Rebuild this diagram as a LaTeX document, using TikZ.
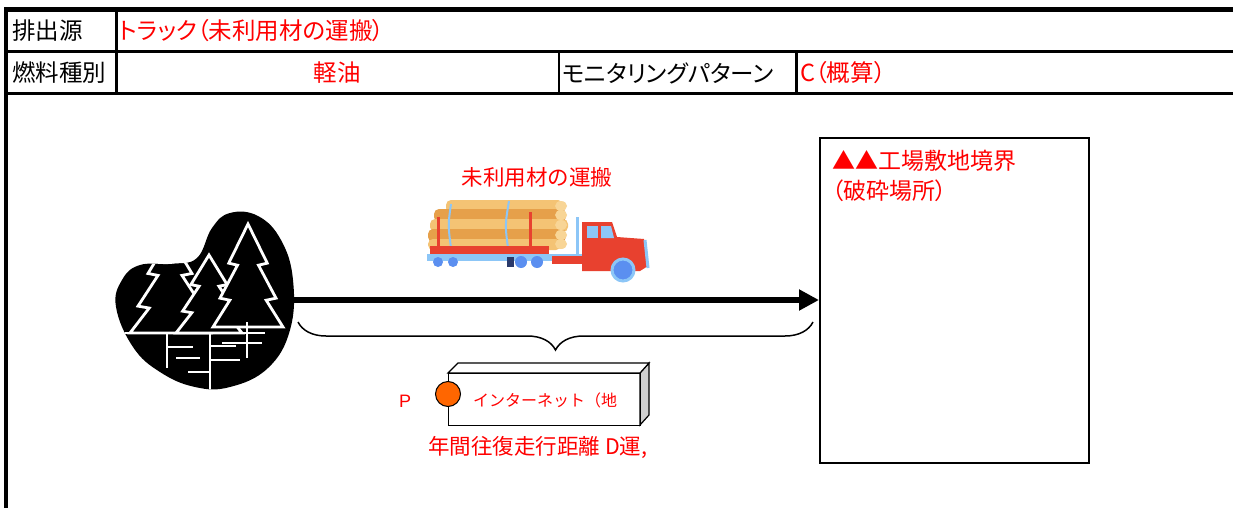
\documentclass[tikz,border=0pt]{standalone}
\usepackage{fontspec}
\newfontfamily\jp{Noto Sans CJK JP}
\newfontfamily\jpp[RawFeature={+palt}]{Noto Sans CJK JP}
\usetikzlibrary{arrows.meta,decorations.pathreplacing}
\definecolor{txtred}{HTML}{FF0000}
\definecolor{logdark}{HTML}{E6A04A}
\definecolor{loglight}{HTML}{F4C374}
\definecolor{logend}{HTML}{F8D596}
\definecolor{truckred}{HTML}{E8412F}
\definecolor{truckblue}{HTML}{5B8FF0}
\definecolor{trucksky}{HTML}{8CC6F7}
\definecolor{trucknavy}{HTML}{2B3A6B}
\definecolor{pin}{HTML}{FF6600}
\definecolor{sideface}{HTML}{D0D0D0}

\tikzset{
  hdr/.style={font=\jpp\fontsize{23.5}{26}\selectfont, anchor=west, inner sep=0pt},
  hdrred/.style={hdr, text=txtred},
  redlabel/.style={font=\jp\fontsize{19}{22}\selectfont, text=txtred, inner sep=0pt},
  treeicon/.style={fill=black, draw=white, line width=2.8pt, line join=miter},
}

% fir tree outline: apex x, apex y, base y, half width
\newcommand\firtree[4]{%
  \filldraw[treeicon]
    (#1,#2)
    -- ({#1+0.55*#4},{#2+0.38*(#3-#2)})
    -- ({#1+0.30*#4},{#2+0.40*(#3-#2)})
    -- ({#1+0.80*#4},{#2+0.72*(#3-#2)})
    -- ({#1+0.52*#4},{#2+0.74*(#3-#2)})
    -- ({#1+#4},#3)
    -- ({#1-#4},#3)
    -- ({#1-0.52*#4},{#2+0.74*(#3-#2)})
    -- ({#1-0.80*#4},{#2+0.72*(#3-#2)})
    -- ({#1-0.30*#4},{#2+0.40*(#3-#2)})
    -- ({#1-0.55*#4},{#2+0.38*(#3-#2)})
    -- cycle;}

\begin{document}
\begin{tikzpicture}[x=1pt,y=-1pt]
\useasboundingbox (0,0) rectangle (1233,508);
\fill[white] (0,0) rectangle (1233,508);

% ---- header table ----
\draw[line width=4.5pt] (6,508) -- (6,9.5) -- (1233,9.5);
\draw[line width=3pt] (6,51.5) -- (1233,51.5);
\draw[line width=3pt] (6,93.5) -- (1233,93.5);
\draw[line width=2.5pt] (116.5,9.5) -- (116.5,93.5);
\draw[line width=2.5pt] (559,51.5) -- (559,93.5);
\draw[line width=2.5pt] (796.5,51.5) -- (796.5,93.5);

\node[hdr] (srclabel) at (12,31) {排出源};
\node[hdrred] (srcval) at (119,31) {トラック（未利用材の運搬）};
\node[hdr] (fuellabel) at (12,73) {燃料種別};
\node[hdr, text=txtred, anchor=center] (fuelval) at (337,73) {軽油};
\node[hdr] (patlabel) at (562,73) {モニタリングパターン};
\node[hdrred] (patval) at (800,73) {C（概算）};

% ---- forest icon ----
\begin{scope}
  \path[clip] plot[smooth cycle, tension=0.7] coordinates {
    (116,307) (122,280) (140,265) (172,264) (197,258) (212,228) (230,213)
    (258,216) (281,240) (293,280) (290,330) (268,368) (230,387) (195,387)
    (160,372) (133,347)};
  \fill[black] (100,200) rectangle (300,400);
  \firtree{170}{237}{333}{40}
  \firtree{209}{255}{333}{33}
  \firtree{248}{224}{327}{35}
  % ground and trunks
  \draw[white, line width=2.8pt]
    (110,333) -- (265,333)
    (167,333) -- (167,368)
    (167,347) -- (193,347)
    (176,358) -- (200,358)
    (210,333) -- (210,395)
    (210,346) -- (236,346)
    (210,360) -- (240,360)
    (247,322) -- (247,358)
    (222,343) -- (262,343)
    (188,372) -- (210,372);
\end{scope}
\coordinate (forestR) at (294,300);

% ---- destination box ----
\node[draw, line width=1.8pt, minimum width=269pt, minimum height=325pt,
      anchor=north west, inner sep=0pt] (site) at (819,137) {};
\node[font=\jpp\fontsize{23}{30}\selectfont, text=txtred, anchor=north west,
      align=left, inner sep=0pt] (sitelabel) at (832,150)
  {▲▲工場敷地境界\\（破砕場所）};

% ---- transport arrow and brace ----
\draw[line width=5.5pt, -{Triangle[length=20pt,width=20pt]}]
  (forestR) -- (site.west |- forestR);
\draw[line width=1.5pt, decorate,
      decoration={brace, mirror, amplitude=28pt, aspect=0.5}]
  (298,322) -- (813,322);

\node[redlabel, font=\jp\fontsize{21.5}{24}\selectfont] (cargo) at (537,177) {未利用材の運搬};

% ---- truck ----
\begin{scope}
  % log bundle
  \fill[loglight, rounded corners=5pt] (446,200) rectangle (563,213);
  \fill[logdark, rounded corners=5pt] (434,209) rectangle (566,222);
  \fill[loglight, rounded corners=5pt] (430,219) rectangle (568,232);
  \fill[logdark, rounded corners=5pt] (428,229) rectangle (566,242);
  \fill[loglight, rounded corners=5pt] (428,239) rectangle (561,250);
  \foreach \ly in {206,215,225,235,244}
    \fill[logend] (561,\ly) ellipse (6pt and 5pt);
  \draw[trucksky, line width=2pt] (451,204) .. controls (448,225) .. (451,248);
  \draw[trucksky, line width=2pt] (509,201) .. controls (505,225) .. (508,248);
  \draw[truckred, line width=3pt] (438,217) -- (438,249);
  \draw[truckred, line width=3pt] (530,212) -- (530,249);
  % flatbed and chassis
  \fill[truckred] (430,246) rectangle (549,254);
  \fill[trucksky] (427,254) rectangle (582,261);
  \fill[truckred] (552,256) rectangle (582,264);
  \fill[trucknavy] (507,257) rectangle (514,267);
  \foreach \wx/\wr in {438/5, 453/5, 521/6, 537/6}
    \fill[truckblue] (\wx,262) circle (\wr pt);
  \draw[trucksky, line width=3pt] (577,217) -- (577,254);
  % cab
  \fill[truckred] (582,222) -- (612,222) -- (617,237) -- (644,239)
    -- (648,266) -- (640,271) -- (582,271) -- cycle;
  \fill[trucksky] (587,226) rectangle (598,238);
  \fill[trucksky] (601,226) -- (611,226) -- (614,238) -- (601,238) -- cycle;
  \draw[trucksky, line width=3pt] (645,240) -- (648,268);
  \filldraw[fill=truckblue, draw=trucksky, line width=3pt] (623,270) circle (11pt);
\end{scope}

% ---- distance description ----
\fill[sideface, draw=black, line width=1.2pt]
  (640,373) -- (649,363) -- (649,415) -- (640,425) -- cycle;
\draw[line width=1.2pt, fill=white] (448,373) -- (458,363) -- (649,363) -- (640,373) -- cycle;
\node[draw, line width=1.2pt, minimum width=192pt, minimum height=52pt,
      anchor=north west, inner sep=0pt] (route) at (448,373) {};
\node[circle, draw=black, line width=1pt, fill=pin, minimum size=25pt,
      inner sep=0pt] (pt) at (448,394) {};
\node[redlabel, font=\jp\fontsize{16}{20}\selectfont, anchor=west] (ptname)
  at (473,400) {インターネット（地};
\node[redlabel, font=\fontspec{Liberation Sans}\fontsize{18}{20}\selectfont] (plabel) at (405,401) {P};
\node[redlabel, font=\jp\fontsize{21.5}{24}\selectfont, anchor=west] (dist)
  at (428,447) {年間往復走行距離 D運,};
\end{tikzpicture}
\end{document}
